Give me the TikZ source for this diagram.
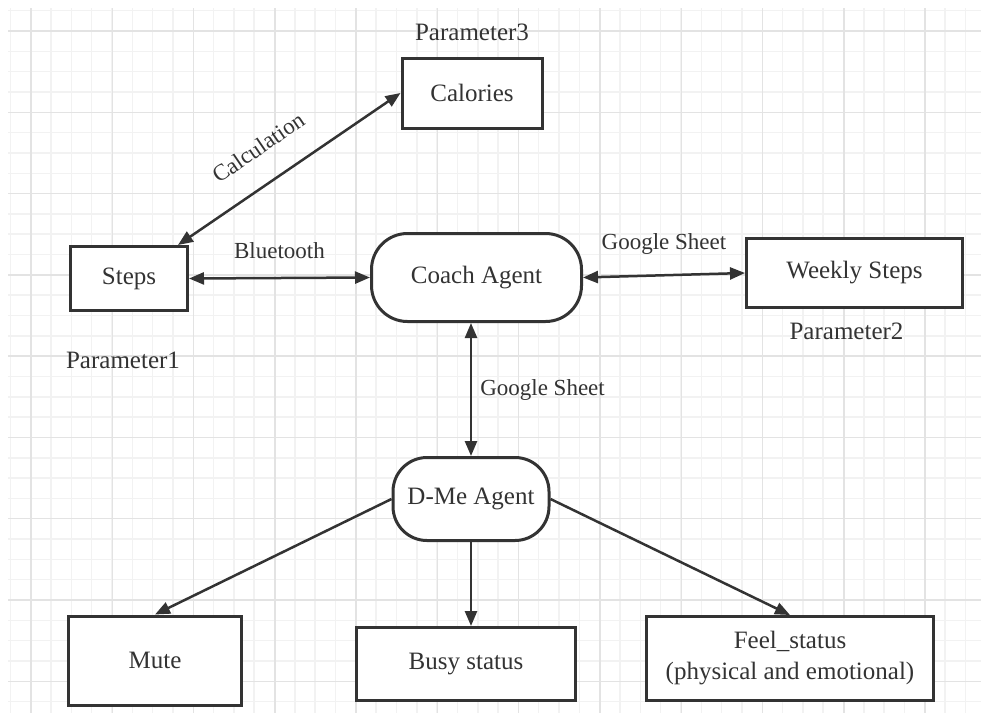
\documentclass[tikz,border=0pt]{standalone}
\usepackage{fontspec}
\setmainfont{Liberation Serif}
\usetikzlibrary{arrows.meta,positioning}
\definecolor{ink}{HTML}{333333}
\definecolor{gridminor}{HTML}{F2F2F2}
\definecolor{gridmajor}{HTML}{E3E3E3}

\begin{document}
\begin{tikzpicture}[x=1pt,y=-1pt,every node/.style={font=\fontsize{25}{31}\selectfont,text=ink},
  box/.style={draw=ink,line width=3pt,inner sep=0pt,fill=white,align=center},
  agent/.style={box,rounded corners=36pt},
  lbl/.style={font=\fontsize{23}{27}\selectfont,inner sep=0pt},
  link/.style={draw=ink,line width=2.5pt,{Triangle[length=15pt,width=12pt]}-{Triangle[length=15pt,width=12pt]}},
  feed/.style={draw=ink,line width=2.5pt,-{Triangle[length=15pt,width=12pt]}}]
\useasboundingbox[fill=white] (0,0) rectangle (981,713);
% grid paper
\foreach \i in {0,...,47} \draw[gridminor,line width=1.5pt] ({10.4+\i*20.32},8) -- ({10.4+\i*20.32},713);
\foreach \j in {0,...,34} \draw[gridminor,line width=1.5pt] (8,{10.7+\j*20.32}) -- (981,{10.7+\j*20.32});
\foreach \i in {0,...,11} \draw[gridmajor,line width=1.5pt] ({31+\i*81.28},8) -- ({31+\i*81.28},713);
\foreach \j in {0,...,8} \draw[gridmajor,line width=1.5pt] (8,{31+\j*81.28}) -- (981,{31+\j*81.28});

\node[box,minimum width=140pt,minimum height=70pt] (calories) at (472,93) {Calories};
\node[box,minimum width=117pt,minimum height=64pt] (steps) at (129,278.5) {Steps};
\node[agent,minimum width=210pt,minimum height=88pt] (coach) at (476.5,277.5) {Coach Agent};
\node[box,minimum width=216pt,minimum height=69pt] (weekly) at (854.5,273) {Weekly Steps};
\node[agent,rounded corners=34pt,minimum width=156pt,minimum height=83pt] (dme) at (471,499) {D-Me Agent};
\node[box,minimum width=173pt,minimum height=89pt] (mute) at (155,660.5) {Mute};
\node[box,minimum width=219pt,minimum height=73pt] (busy) at (466,664) {Busy status};
\node[box,minimum width=287pt,minimum height=84pt] (feel) at (790,658.5) {Feel\_status\\(physical and emotional)};

\node[above=12pt of calories] (par3) {Parameter3};
\node[below=36pt of steps,xshift=-6pt] (par1) {Parameter1};
\node[below=10pt of weekly,xshift=-8pt] (par2) {Parameter2};

\draw[link] (steps) -- node[lbl,sloped,above=26pt,pos=.45] {Calculation} (calories.west);
\draw[link] (steps.east) -- node[lbl,above=18pt] {Bluetooth} (coach.west);
\draw[link] (coach.east) -- node[lbl,above=20pt] {Google Sheet} (weekly.west);
\draw[link] (dme.north |- coach.south) -- node[lbl,right=8pt] {Google Sheet} (dme.north);
\draw[feed] (dme.west) -- (mute.north);
\draw[feed] (dme.south) -- (busy.north -| dme.south);
\draw[feed] (dme.east) -- (feel.north);
\end{tikzpicture}
\end{document}
